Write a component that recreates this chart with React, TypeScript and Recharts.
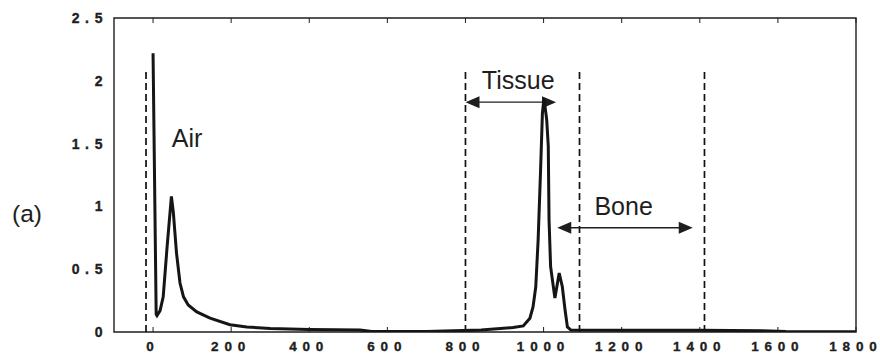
import React from 'react';
import { LineChart, Line, XAxis, YAxis, ReferenceLine, ReferenceDot, ReferenceArea } from 'recharts';

// histogram-like curve
const xValues = [
  0, 8, 10, 18, 26, 36, 47, 52, 60, 69, 78, 90, 112, 146, 197, 240, 300, 400, 530, 560,
  700, 840, 922, 948, 965, 973, 980, 986, 992, 997, 1001, 1008, 1012, 1014, 1018, 1029,
  1040, 1048, 1055, 1061, 1070, 1200, 1400, 1560, 1620, 1800,
];
const yValues = [
  2.22, 0.14, 0.13, 0.17, 0.28, 0.68, 1.08, 0.95, 0.63, 0.39, 0.28, 0.215, 0.16, 0.11, 0.058, 0.04, 0.028, 0.02, 0.015, 0.004,
  0.003, 0.015, 0.035, 0.048, 0.11, 0.2, 0.36, 0.73, 1.26, 1.74, 1.86, 1.69, 1.48, 0.89, 0.52, 0.27,
  0.47, 0.36, 0.175, 0.04, 0.015, 0.014, 0.013, 0.01, 0.003, 0.002,
];

const xTicks = [0, 200, 400, 600, 800, 1000, 1200, 1400, 1600, 1800];
const yTicks = [0, 0.5, 1, 1.5, 2, 2.5];

// dashed region boundaries
const boundaries = [-18, 800, 1092, 1412];
const boundaryTop = 2.1;

// double arrows: [from, to, level]
const arrows: [number, number, number][] = [
  [800, 1032, 1.83],
  [1035, 1382, 0.83],
];

const labels = [
  { text: 'Air', x: 87, y: 1.476 },
  { text: 'Tissue', x: 935, y: 1.935 },
  { text: 'Bone', x: 1205, y: 0.932 },
];

const data = xValues.map((x, i) => ({ x, v: yValues[i] }));

const font = '"Liberation Sans", Arial, sans-serif';
const ink = '#1e1e1e';

// spaced-out bold numbers, each glyph placed on its own so no trailing gap
function SpacedText({ str, start, y, fs, gap }: { str: string; start: number; y: number; fs: number; gap: number }) {
  let cx = start;
  const parts = str.split('').map((ch, i) => {
    const el = (
      <tspan key={i} x={cx}>
        {ch}
      </tspan>
    );
    cx += (ch === '.' ? 0.278 : 0.556) * fs + gap;
    return el;
  });
  return (
    <text
      y={y}
      fill={ink}
      stroke={ink}
      strokeWidth={0.35}
      style={{ fontFamily: font, fontWeight: 700, fontSize: fs }}
    >
      {parts}
    </text>
  );
}

function textWidth(str: string, fs: number, gap: number) {
  let w = 0;
  str.split('').forEach((ch) => (w += (ch === '.' ? 0.278 : 0.556) * fs + gap));
  return w - gap;
}

function XTick(props: any) {
  const { x, payload } = props;
  const s = String(payload.value);
  const fs = 13.5;
  const gap = 5.8;
  const w = textWidth(s, fs, gap);
  return <SpacedText str={s} start={x - 3 - w / 2} y={350.5} fs={fs} gap={gap} />;
}

function YTick(props: any) {
  const { y, payload } = props;
  const s = String(payload.value);
  const fs = 14;
  const gap = 5.7;
  const w = textWidth(s, fs, gap);
  return <SpacedText str={s} start={102.5 - w} y={y + 5} fs={fs} gap={gap} />;
}

function DoubleArrow(props: any) {
  const { x1, y1, x2, y2 } = props;
  const len = 14;
  const half = 6;
  return (
    <g>
      <line x1={x1 + 6} y1={y1} x2={x2 - 6} y2={y2} stroke={ink} strokeWidth={1.4} />
      <polygon points={`${x1},${y1} ${x1 + len},${y1 - half} ${x1 + len},${y1 + half}`} fill={ink} />
      <polygon points={`${x2},${y2} ${x2 - len},${y2 - half} ${x2 - len},${y2 + half}`} fill={ink} />
    </g>
  );
}

export default function App() {
  return (
    <div style={{ position: 'absolute', left: 0, top: 0, width: 880, height: 353, background: '#fff' }}>
      <LineChart width={880} height={353} data={data} margin={{ top: 17, right: 23, bottom: 1, left: 74 }}>
        <XAxis
          dataKey="x"
          type="number"
          domain={[-100, 1800]}
          ticks={xTicks}
          height={20}
          tickSize={-5}
          tick={<XTick />}
          axisLine={false}
          tickLine={{ stroke: ink, strokeWidth: 1 }}
          allowDataOverflow
        />
        <XAxis
          xAxisId="top"
          dataKey="x"
          type="number"
          orientation="top"
          domain={[-100, 1800]}
          ticks={xTicks}
          height={1}
          tickSize={-5}
          tick={() => <g />}
          axisLine={false}
          tickLine={{ stroke: ink, strokeWidth: 1 }}
          allowDataOverflow
        />
        <YAxis
          domain={[0, 2.5]}
          ticks={yTicks}
          width={40}
          tickLine={false}
          axisLine={false}
          tick={<YTick />}
          allowDataOverflow
        />
        <YAxis yAxisId="right" orientation="right" domain={[0, 2.5]} width={1} tickLine={false} axisLine={false} tick={false} />
        <ReferenceArea x1={-100} x2={1800} y1={0} y2={2.5} fill="none" stroke={ink} strokeWidth={1.4} ifOverflow="visible" />
        {boundaries.map((b) => (
          <ReferenceLine
            key={b}
            segment={[{ x: b, y: 0 }, { x: b, y: boundaryTop }]}
            stroke="#111"
            strokeWidth={1.7}
            strokeDasharray="7 4"
          />
        ))}
        {arrows.map(([a, b, lvl]) => (
          <ReferenceLine key={a} segment={[{ x: a, y: lvl }, { x: b, y: lvl }]} shape={<DoubleArrow />} />
        ))}
        <Line
          type="linear"
          dataKey="v"
          stroke="#151515"
          strokeWidth={3}
          dot={false}
          isAnimationActive={false}
        />
        {labels.map((l) => (
          <ReferenceDot
            key={l.text}
            x={l.x}
            y={l.y}
            r={0}
            shape={(p: any) => (
              <text x={p.cx} y={p.cy} textAnchor="middle" fontFamily={font} fontSize={25} fill={ink}>
                {l.text}
              </text>
            )}
          />
        ))}
      </LineChart>
      <div
        style={{
          position: 'absolute',
          left: 0,
          top: 199,
          width: 54,
          textAlign: 'center',
          fontFamily: font,
          fontSize: 24.5,
          lineHeight: '30px',
          color: ink,
        }}
      >
        (a)
      </div>
    </div>
  );
}
